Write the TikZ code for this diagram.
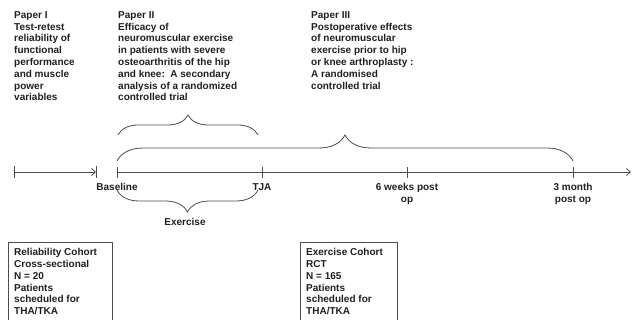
\documentclass[tikz,border=0pt]{standalone}
\usepackage{fontspec}
\setmainfont{Liberation Sans}
\usetikzlibrary{arrows.meta,decorations.pathreplacing}
\begin{document}
\begin{tikzpicture}[x=1pt,y=-1pt,
  txt/.style={inner sep=0pt,align=left,anchor=north west,text=black!88,font=\fontsize{10}{11.8}\selectfont\bfseries},
  lbl/.style={inner sep=0pt,align=center,anchor=north,text=black!88,font=\fontsize{10}{12.5}\selectfont\bfseries},
  ln/.style={draw=black!70,line width=0.8pt},
  bracestyle/.style={ln,decorate,decoration={brace,amplitude=#1}},
  cohort/.style={draw=black!70,line width=0.8pt}]
\useasboundingbox (0,0) rectangle (632,320);
\clip (0,0) rectangle (632,320);
% paper texts
\node[txt] (p1) at (14,11.3) {Paper I\\Test-retest\\reliability of\\functional\\performance\\and muscle\\power\\variables};
\node[txt] (p2) at (118,11.3) {Paper II\\Efficacy of\\neuromuscular exercise\\in patients with severe\\osteoarthritis of the hip\\and knee:\ \ A secondary\\analysis of a randomized\\controlled trial};
\node[txt] (p3) at (311,11.3) {Paper III\\Postoperative effects\\of neuromuscular\\exercise prior to hip\\or knee arthroplasty :\\A randomised\\controlled trial};
% timeline coordinates
\coordinate (s0) at (14,172);
\coordinate (s1) at (96,172);
\coordinate (t0) at (117,172);
\coordinate (t1) at (262,172);
\coordinate (t2) at (407,172);
\coordinate (t3) at (573,172);
\coordinate (tend) at (631,172);
% timeline
\draw[ln,-{Straight Barb[length=4pt,width=7pt]}] (s0) -- (s1);
\draw[ln] ([yshift=-6]s0) -- ([yshift=6]s0);
\draw[ln] ([yshift=-6]s1) -- ([yshift=6]s1);
\draw[ln,-{Straight Barb[length=4pt,width=7pt]}] (t0) -- (tend);
\foreach \t in {t0,t1,t2,t3} \draw[ln] ([yshift=-6]\t) -- ([yshift=5]\t);
% braces
\coordinate (b2a) at (118,135);
\coordinate (b2b) at (258,135);
\draw[bracestyle=20] (b2a) -- (b2b);
\coordinate (b3a) at (117,161);
\coordinate (b3b) at (573,161);
\draw[bracestyle=26] (b3a) -- (b3b);
\coordinate (bea) at (258,190);
\coordinate (beb) at (117,190);
\draw[bracestyle=22] (bea) -- (beb);
% labels
\node[lbl] (base) at (117,183.3) {Baseline};
\node[lbl] (tja) at (262,183.3) {TJA};
\node[lbl] (w6) at (407,182.7) {6 weeks post\\op};
\node[lbl] (m3) at (573,182.7) {3 month\\post op};
\node[lbl] (ex) at (185,218.3) {Exercise};
% cohort boxes
\draw[cohort] (8,330) -- (8,242) -- (112,242) -- (112,330);
\node[txt] (c1) at (14,248.3) {Reliability Cohort\\Cross-sectional\\N = 20\\Patients\\scheduled for\\THA/TKA};
\draw[cohort] (300,330) -- (300,242) -- (397,242) -- (397,330);
\node[txt] (c2) at (306,248.3) {Exercise Cohort\\RCT\\N = 165\\Patients\\scheduled for\\THA/TKA};
\end{tikzpicture}
\end{document}
